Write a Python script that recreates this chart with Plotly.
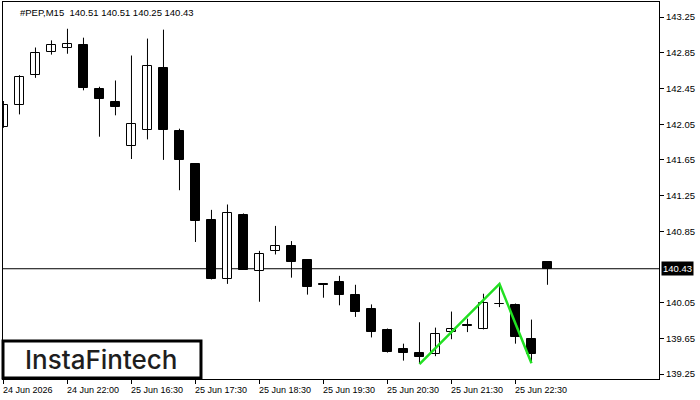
import plotly.graph_objects as go

# ---- data ----
opens = [142.02, 142.26, 142.60, 142.86, 142.91, 142.94, 142.44, 142.30, 141.81, 141.99,
         142.68, 141.97, 141.60, 140.98, 140.31, 141.03, 140.40, 140.63, 140.68, 140.53,
         140.255, 140.28, 140.14, 139.98, 139.74, 139.53, 139.49, 139.47, 139.72, 139.80,
         139.75, 140.035, 140.02, 139.64, 140.51]
highs = [142.31, 142.60, 142.91, 142.99, 143.12, 143.02, 142.47, 142.54, 142.82, 143.01,
         143.11, 142.00, 141.61, 141.09, 141.15, 141.05, 140.63, 140.91, 140.74, 140.53,
         140.26, 140.35, 140.25, 140.03, 139.76, 139.59, 139.83, 139.77, 139.95, 139.87,
         140.15, 140.26, 140.04, 139.86, 140.51]
lows = [142.01, 142.16, 142.57, 142.83, 142.84, 142.43, 141.91, 142.15, 141.66, 141.88,
        141.65, 141.31, 140.73, 140.31, 140.26, 140.42, 140.06, 140.59, 140.33, 140.14,
        140.105, 140.02, 139.89, 139.66, 139.49, 139.40, 139.37, 139.45, 139.64, 139.72,
        139.75, 140.00, 139.59, 139.38, 140.25]
closes = [142.27, 142.58, 142.85, 142.94, 142.95, 142.46, 142.33, 142.24, 142.05, 142.70,
          141.98, 141.65, 140.97, 140.32, 141.06, 140.42, 140.59, 140.69, 140.51, 140.22,
          140.245, 140.14, 139.94, 139.72, 139.50, 139.48, 139.44, 139.70, 139.76, 139.785,
          140.05, 140.04, 139.66, 139.47, 140.43]

x_tick_pos = [0, 4, 8, 12, 16, 20, 24, 28, 32]
x_tick_labels = ["24 Jun 2026", "24 Jun 22:00", "25 Jun 16:30", "25 Jun 17:30",
                 "25 Jun 18:30", "25 Jun 19:30", "25 Jun 20:30", "25 Jun 21:30",
                 "25 Jun 22:30"]
y_tick_vals = [139.25, 139.65, 140.05, 140.85, 141.25, 141.65, 142.05, 142.45, 142.85, 143.25]

pattern_x = [26, 31, 33]
pattern_y = [139.36, 140.26, 139.37]

symbol_title = "#PEP,M15  140.51 140.51 140.25 140.43"
current_price = 140.43
logo_text = "InstaFintech"

# ---- build ----
n = len(opens)
xs = list(range(n))

wx, wy = [], []
for i in xs:
    wx += [i, i, None]
    wy += [lows[i], highs[i], None]

bases = [min(o, c) for o, c in zip(opens, closes)]
heights = [max(abs(c - o), 0.004) for o, c in zip(opens, closes)]
colors = ["white" if c >= o else "black" for o, c in zip(opens, closes)]

FONT = "Liberation Sans, Arial, sans-serif"

fig = go.Figure()
fig.add_trace(go.Scatter(x=wx, y=wy, mode="lines",
                         line=dict(color="black", width=1),
                         hoverinfo="skip", showlegend=False))
fig.add_trace(go.Bar(x=xs, y=heights, base=bases, width=0.57,
                     marker=dict(color=colors, line=dict(color="black", width=1)),
                     hoverinfo="skip", showlegend=False))
fig.add_trace(go.Scatter(x=pattern_x, y=pattern_y, mode="lines",
                         line=dict(color="#22e022", width=2.5),
                         hoverinfo="skip", showlegend=False))

fig.add_shape(type="line", xref="paper", x0=0, x1=1, yref="y",
              y0=current_price, y1=current_price,
              line=dict(color="black", width=1), layer="below")

# logo box
fig.add_shape(type="rect", xref="paper", yref="paper",
              x0=0.0, x1=0.3018, y0=0.0027, y1=0.1008,
              line=dict(color="black", width=3), fillcolor="white", layer="above")
fig.add_annotation(xref="paper", yref="paper", x=0.150, y=0.052,
                   text=logo_text, showarrow=False,
                   font=dict(family="Inter, sans-serif", size=26, color="#1e1e1e",
                             weight=500),
                   xanchor="center", yanchor="middle")

# title
fig.add_annotation(xref="paper", yref="paper", x=0, y=1, xshift=15, yshift=-3,
                   text=symbol_title, showarrow=False,
                   font=dict(family=FONT, size=9.5, color="black"),
                   xanchor="left", yanchor="top")

# x tick labels (left aligned at tick like MT4)
for pos, lab in zip(x_tick_pos, x_tick_labels):
    fig.add_annotation(xref="x", yref="paper", x=pos, y=0, yshift=-4, xshift=-2,
                       text=lab, showarrow=False,
                       font=dict(family=FONT, size=9, color="black"),
                       xanchor="left", yanchor="top")

# current price label
fig.add_annotation(xref="paper", yref="y", x=1, y=current_price, xshift=2,
                   text=f"{current_price:.2f}", showarrow=False,
                   font=dict(family=FONT, size=9.5, color="white"),
                   bgcolor="black", borderpad=1,
                   xanchor="left", yanchor="middle")

fig.update_layout(
    width=700, height=400,
    margin=dict(l=3, r=41, t=2, b=21),
    paper_bgcolor="white", plot_bgcolor="white",
    barmode="overlay", bargap=0,
    showlegend=False,
    xaxis=dict(range=[-0.03, 40.97], showgrid=False, zeroline=False,
               tickvals=x_tick_pos, showticklabels=False,
               ticks="outside", ticklen=4, tickcolor="black",
               showline=True, linecolor="black", linewidth=1, mirror=True),
    yaxis=dict(range=[139.194, 143.42], side="right", showgrid=False, zeroline=False,
               tickvals=y_tick_vals, ticktext=[f"{v:.2f}" for v in y_tick_vals],
               ticks="outside", ticklen=4, tickcolor="black",
               tickfont=dict(family=FONT, size=9.5, color="black"),
               showline=True, linecolor="black", linewidth=1, mirror=True),
)

fig.write_html("out.html")
